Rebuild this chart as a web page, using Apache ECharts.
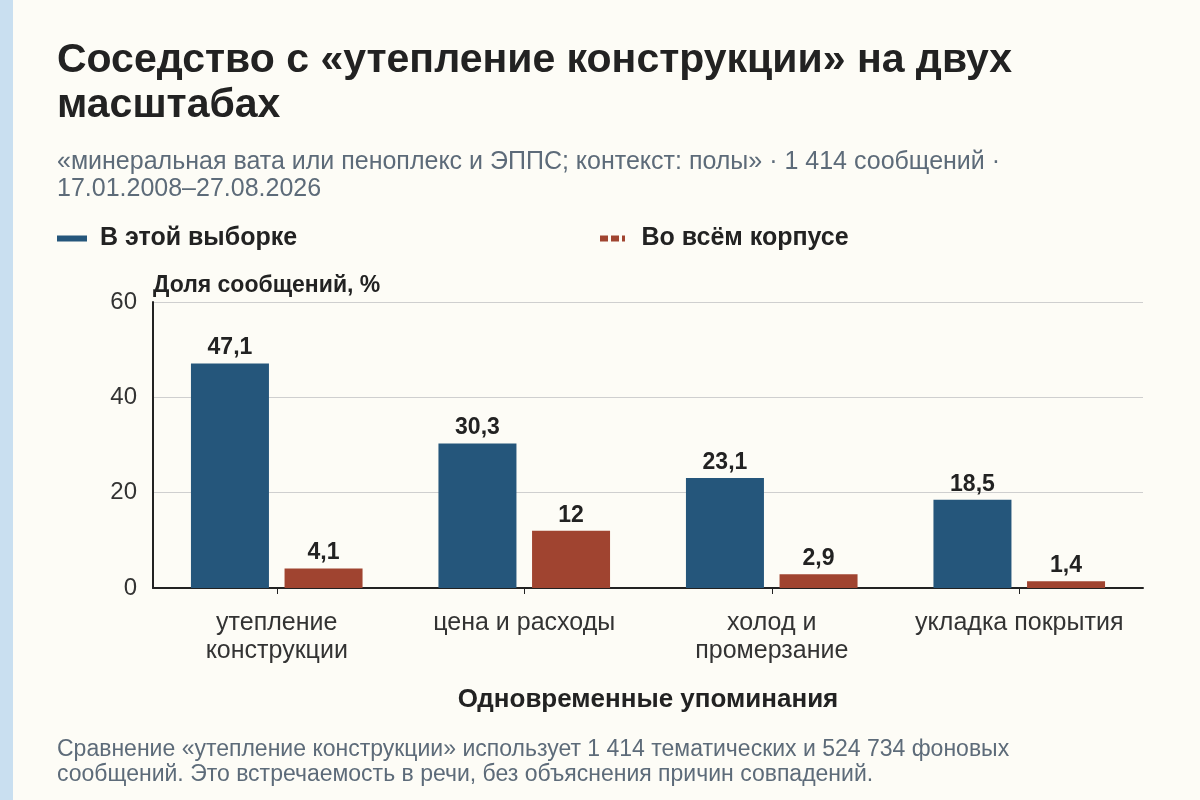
<!DOCTYPE html>
<html><head><meta charset="utf-8">
<script src="https://cdn.jsdelivr.net/npm/echarts@6/dist/echarts.min.js"></script>
<style>html,body{margin:0;padding:0;background:#fdfcf6;}#c{width:1200px;height:800px;}</style>
</head><body><div id="c"></div>
<script>
const categories = ['утепление\nконструкции', 'цена и расходы', 'холод и\nпромерзание', 'укладка покрытия'];
const sampleValues = [47.1, 30.3, 23.1, 18.5];
const corpusValues = [4.1, 12, 2.9, 1.4];
const seriesNames = ['В этой выборке', 'Во всём корпусе'];
const yTicks = [0, 20, 40, 60];

const FONT = '"Liberation Sans", Arial, sans-serif';
const chart = echarts.init(document.getElementById('c'));
const fmt = v => String(v.value).replace('.', ',');
chart.setOption({
  backgroundColor: '#fdfcf6',
  textStyle: { fontFamily: FONT },
  graphic: [
    { type: 'rect', left: 0, top: 0, shape: { width: 13, height: 800 }, style: { fill: '#c9dff0' } },
    { type: 'text', left: 57, top: 38, style: { text: 'Соседство с «утепление конструкции» на двух\nмасштабах', font: 'bold 41px ' + FONT, fill: '#222222', lineHeight: 45 } },
    { type: 'text', left: 57, top: 149, style: { text: '«минеральная вата или пеноплекс и ЭППС; контекст: полы» · 1 414 сообщений ·\n17.01.2008–27.08.2026', font: '25px ' + FONT, fill: '#5d6b79', lineHeight: 27 } },
    { type: 'text', left: 57, top: 737, style: { text: 'Сравнение «утепление конструкции» использует 1 414 тематических и 524 734 фоновых\nсообщений. Это встречаемость в речи, без объяснения причин совпадений.', font: '23px ' + FONT, fill: '#5d6b79', lineHeight: 25 } }
  ],
  legend: [
    { data: [{ name: seriesNames[0], icon: 'rect' }], left: 57, top: 226, padding: 0, itemWidth: 30, itemHeight: 6,
      textStyle: { fontSize: 25, fontWeight: 'bold', color: '#222', fontFamily: FONT, padding: [0, 0, 0, 8] } },
    { data: [{ name: seriesNames[1], icon: 'path://M0,0h8v6h-8z M11,0h8v6h-8z M22,0h3v6h-3z' }], left: 600, top: 226, padding: 0, itemWidth: 30, itemHeight: 6,
      textStyle: { fontSize: 25, fontWeight: 'bold', color: '#222', fontFamily: FONT, padding: [0, 0, 0, 9] } }
  ],
  grid: { left: 153, right: 57, top: 302, bottom: 212 },
  xAxis: {
    type: 'category', data: categories,
    name: 'Одновременные упоминания', nameLocation: 'middle', nameGap: 99,
    nameTextStyle: { fontSize: 26, fontWeight: 'bold', color: '#222', fontFamily: FONT },
    axisLine: { lineStyle: { color: '#222', width: 2 } },
    axisTick: { show: true, alignWithLabel: true, length: 6, lineStyle: { color: '#222' } },
    axisLabel: { interval: 0, fontSize: 25, color: '#333', margin: 21, lineHeight: 28, fontFamily: FONT }
  },
  yAxis: {
    type: 'value', min: 0, max: 60, interval: 20,
    name: 'Доля сообщений, %', nameLocation: 'end', nameGap: 5,
    nameTextStyle: { fontSize: 23, fontWeight: 'bold', color: '#222', align: 'left', fontFamily: FONT },
    axisLine: { show: true, lineStyle: { color: '#222', width: 2 } },
    axisTick: { show: false },
    axisLabel: { fontSize: 24, color: '#333', margin: 16, fontFamily: FONT },
    splitLine: { lineStyle: { color: '#cfcfcf', width: 1 } }
  },
  series: [
    { name: seriesNames[0], type: 'bar', data: sampleValues, barWidth: 78, barGap: '20%',
      itemStyle: { color: '#25567b' },
      label: { show: true, position: 'top', distance: 4, formatter: fmt, fontSize: 23, fontWeight: 'bold', color: '#222', fontFamily: FONT } },
    { name: seriesNames[1], type: 'bar', data: corpusValues, barWidth: 78,
      itemStyle: { color: '#a04430' },
      label: { show: true, position: 'top', distance: 4, formatter: fmt, fontSize: 23, fontWeight: 'bold', color: '#222', fontFamily: FONT } }
  ]
});
</script></body></html>
